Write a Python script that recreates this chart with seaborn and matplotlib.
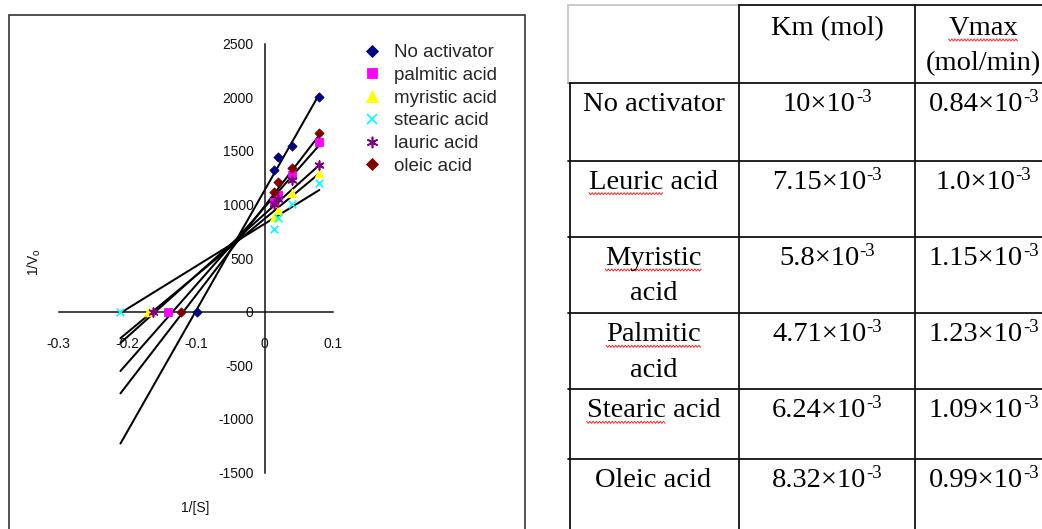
import numpy as np
import pandas as pd
import matplotlib
matplotlib.use("Agg")
import matplotlib.pyplot as plt
import seaborn as sns
from matplotlib.patches import Rectangle
from matplotlib.lines import Line2D

# ---------------- data ----------------
series_names = ["No activator", "palmitic acid", "myristic acid",
                "stearic acid", "lauric acid", "oleic acid"]
inv_s = [0.0133, 0.02, 0.04, 0.08]
inv_v_no_activator = [1320, 1445, 1540, 2000]
inv_v_palmitic = [1020, 1085, 1270, 1580]
inv_v_myristic = [885, 950, 1110, 1290]
inv_v_stearic = [770, 870, 1000, 1200]
inv_v_lauric = [1000, 1050, 1225, 1370]
inv_v_oleic = [1115, 1205, 1335, 1665]
x_intercepts = [-0.099, -0.141, -0.170, -0.210, -0.162, -0.121]
trend_slopes = [11240, 7266, 5300, 3955, 5724, 8307]
trend_intercepts = [1130, 972, 865, 818, 909, 982]
trend_x_range = [-0.21, 0.08]

x_ticks = [-0.3, -0.2, -0.1, 0.0, 0.1]
x_tick_labels = ["-0.3", "-0.2", "-0.1", "0", "0.1"]
y_ticks = [-1500, -1000, -500, 0, 500, 1000, 1500, 2000, 2500]
y_tick_labels = ["-1500", "-1000", "-500", "0", "500", "1000", "1500", "2000", "2500"]
x_label = "1/[S]"
y_label = r"1/V$_\mathregular{o}$"

table_headers = ["", "Km (mol)", "Vmax\n(mol/min)"]
table_rows = ["No activator", "Leuric acid", "Myristic\nacid", "Palmitic\nacid",
              "Stearic acid", "Oleic acid"]
km_mantissa = ["10", "7.15", "5.8", "4.71", "6.24", "8.32"]
vmax_mantissa = ["0.84", "1.0", "1.15", "1.23", "1.09", "0.99"]
exponent = "-3"
spell_flagged = ["Vmax", "Leuric", "Myristic", "Palmitic", "Stearic"]

# ---------------- styles ----------------
colors = ["#000080", "#FF00FF", "#FFFF00", "#00FFFF", "#800080", "#800000"]
markers = ["D", "s", "^", "x", (6, 2, 0), "D"]
msizes = [22, 30, 38, 30, 40, 22]

sns.set_style("white")
plt.rcParams["font.family"] = ["Liberation Sans", "DejaVu Sans"]
plt.rcParams["axes.unicode_minus"] = False

W, H = 1042, 529
fig = plt.figure(figsize=(W / 100, H / 100), dpi=100)
renderer = fig.canvas.get_renderer()

def fx(px):
    return px / W

def fy(py):
    return 1 - py / H

# axes placement: x -0.3 -> 58.7px, 0.1 -> 333.1px ; y 2500 -> 43.5px, -1500 -> 472.5px
ax = fig.add_axes([fx(58.7), fy(472.5), fx(333.1) - fx(58.7), fy(43.5) - fy(472.5)])
ax.set_facecolor("none")

series_y = [inv_v_no_activator, inv_v_palmitic, inv_v_myristic,
            inv_v_stearic, inv_v_lauric, inv_v_oleic]

# trendlines
for i, name in enumerate(series_names):
    xs = np.array(trend_x_range)
    line_df = pd.DataFrame({"x": xs, "y": trend_slopes[i] * xs + trend_intercepts[i]})
    sns.lineplot(data=line_df, x="x", y="y", color="black", linewidth=1.45,
                 ax=ax, legend=False, zorder=2)

# points
handles = []
for i, name in enumerate(series_names):
    df = pd.DataFrame({"x": inv_s + [x_intercepts[i]], "y": series_y[i] + [0]})
    filled = markers[i] != "x" and not isinstance(markers[i], tuple)
    kw = dict(edgecolor=colors[i], linewidth=0.6) if filled else dict(linewidth=1.2)
    sns.scatterplot(data=df, x="x", y="y", color=colors[i], marker=markers[i],
                    s=msizes[i], ax=ax, legend=False, zorder=3, **kw)
    handles.append(Line2D([], [], linestyle="none", marker=markers[i],
                          color=colors[i], markeredgecolor=colors[i],
                          markersize=np.sqrt(msizes[i]) * 1.3,
                          markeredgewidth=1.2 if not filled else 0.6))

ax.set_xlim(-0.3, 0.1)
ax.set_ylim(-1500, 2500)
ax.set_xticks(x_ticks, labels=x_tick_labels)
ax.set_yticks(y_ticks, labels=y_tick_labels)
ax.set_xlabel("")
ax.set_ylabel("")
for s in ["top", "right"]:
    ax.spines[s].set_visible(False)
ax.spines["left"].set_position(("data", 0))
ax.spines["bottom"].set_position(("data", 0))
for s in ["left", "bottom"]:
    ax.spines[s].set_color("#111111")
    ax.spines[s].set_linewidth(1.1)
ax.tick_params(axis="x", direction="in", length=4, width=1.0, pad=18,
               labelsize=10, colors="#111111")
ax.tick_params(axis="y", direction="in", length=4, width=1.0, pad=8,
               labelsize=10, colors="#111111")

fig.text(fx(34), fy(262), y_label, rotation=90, ha="center", va="center",
         fontsize=10, color="#111111")
fig.text(fx(195), fy(508), x_label, ha="center", va="center",
         fontsize=10, color="#111111")

fig.legend(handles, series_names, loc="upper left",
           bbox_to_anchor=(fx(362.6), fy(44)), frameon=False, fontsize=13.5,
           handlelength=1.0, handletextpad=0.65, labelspacing=0.3,
           borderpad=0, borderaxespad=0)

# chart frame
fig.add_artist(Rectangle((fx(9), -0.05), fx(525) - fx(9), fy(15) + 0.05,
                         transform=fig.transFigure, fill=False,
                         edgecolor="#333333", linewidth=1.2))

# ---------------- table ----------------
col_edges = [568, 739, 915.3, 1060]
row_edges = [5, 82.7, 160.7, 237, 313.3, 389.3, 458.7, 545]
tcolor = "#111111"
lw = 1.3

def hline(y, x0, x1, c=tcolor):
    fig.add_artist(Line2D([fx(x0), fx(x1)], [fy(y), fy(y)], color=c, linewidth=lw,
                          transform=fig.transFigure))

def vline(x, y0, y1, c=tcolor):
    fig.add_artist(Line2D([fx(x), fx(x)], [fy(y0), fy(y1)], color=c, linewidth=lw,
                          transform=fig.transFigure))

hline(row_edges[0], col_edges[0], col_edges[1], c="#c8c8c8")
hline(row_edges[0], col_edges[1], col_edges[-1])
for y in row_edges[1:-1]:
    hline(y, col_edges[0], col_edges[-1])
vline(col_edges[0], row_edges[0], row_edges[1], c="#c8c8c8")
vline(col_edges[0] + 1.5, row_edges[1], row_edges[-1])
for x in col_edges[1:-1]:
    vline(x, row_edges[0], row_edges[-1])

col_centers = [(col_edges[i] + col_edges[i + 1]) / 2 for i in range(3)]
col_centers[2] = 983.5
serif = ["Liberation Serif", "DejaVu Serif"]
tsize = 20.5
sup_size = 13.5
line_gap = 35.5
first_base = 28.0

texts_to_flag = []

def put_lines(cx, row_top, content, flag=True):
    for j, line in enumerate(content.split("\n")):
        t = fig.text(fx(cx), fy(row_top + first_base + j * line_gap), line,
                     ha="center", va="baseline", fontsize=tsize,
                     family=serif, color="black")
        first = line.split(" ")[0]
        if flag and first in spell_flagged:
            texts_to_flag.append((t, first))

def text_width(s, size):
    tmp = fig.text(0, 0, s, fontsize=size, family=serif)
    w = tmp.get_window_extent(renderer).width
    tmp.remove()
    return w

def put_sci(cx, row_top, mantissa):
    main = mantissa + "×10"
    w1 = text_width(main, tsize)
    w2 = text_width(exponent, sup_size)
    x0 = cx - (w1 + w2) / 2
    base = row_top + first_base
    fig.text(fx(x0), fy(base), main, ha="left", va="baseline", fontsize=tsize,
             family=serif, color="black")
    fig.text(fx(x0 + w1), fy(base - 9), exponent, ha="left", va="baseline",
             fontsize=sup_size, family=serif, color="black")

# header
put_lines(col_centers[1], row_edges[0] + 2, table_headers[1])
put_lines(col_centers[2], row_edges[0] + 2, table_headers[2])

for r, label in enumerate(table_rows):
    top = row_edges[r + 1]
    put_lines(col_centers[0], top, label)
    put_sci(col_centers[1], top, km_mantissa[r])
    put_sci(col_centers[2], top, vmax_mantissa[r])

# spell-check squiggles under flagged words
fig.canvas.draw()
for t, word in texts_to_flag:
    bb = t.get_window_extent(renderer)
    wlen = text_width(word, tsize)
    x0 = bb.x0
    x1 = bb.x0 + wlen
    base_y = t.get_position()[1] * H - 5
    xs = np.arange(x0, x1, 1.6)
    ys = base_y + np.where(np.arange(len(xs)) % 2 == 0, 1.0, -1.0)
    fig.add_artist(Line2D(xs / W, ys / H, color="#ff2020", linewidth=0.7,
                          transform=fig.transFigure))

fig.savefig("out.png", dpi=100, facecolor="white")
